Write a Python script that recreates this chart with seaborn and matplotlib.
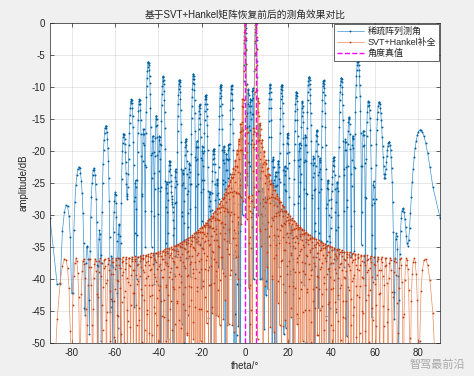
import numpy as np
import matplotlib
matplotlib.use("Agg")
import matplotlib.pyplot as plt
import seaborn as sns

# true source directions (deg), drawn as the magenta dashed lines
true_theta = [0, 5]
true_db = [0, 0]

# array sizes estimated from lobe spacing / far sidelobe level in the picture
n_full = 138      # orange (completed full array)
n_sparse = 115    # blue (sparse array)
n_scan = 1201     # scan points, uniform in sin(theta)

# sparse-array lobes: peak angle (deg) and level (dB)
blue_theta = [-81.5, -76.5, -72.8, -69.7, -66.6, -63.8, -59.5, -56.5,
              -55.3, -52.6, -49.0, -44.6, -41.0, -37.7, -34.5, -30.3, -27.5,
              -23.9, -21.0, -18.0, -14.5, -11.3, -6.1, 0.0, 5.0,
              11.5, 16.9, 19.7, 23.5, 26.4, 29.6, 33.3, 36.3, 40.8, 44.3,
              48.0, 52.1, 57.3, 62.0, 65.4, 67.2, 71.6, 74.0, 77.0, 80.0]
blue_db = [-33.0, -31.5, -31.6, -30.7, -27.9, -17.4, -31.0, -28.4,
           -18.0, -11.8, -14.0, -5.4, -21.0, -8.8, -21.0, -8.5, -21.0,
           -7.3, -16.0, -10.5, -19.0, -9.2, -9.7, 0.0, 0.0,
           -9.7, -9.2, -19.0, -10.5, -16.0, -7.3, -21.0, -8.5, -21.0, -8.8,
           -21.0, -5.4, -14.0, -11.8, -18.0, -28.4, -35.0, -37.0, -36.0, -17.4]

x_ticks = list(range(-80, 81, 20))
y_ticks = list(range(-50, 1, 5))


def dirichlet(x, n):
    """Array factor of an n-element half-wavelength ULA, x in sin-space."""
    num = np.sin(n * np.pi * x / 2)
    den = n * np.sin(np.pi * x / 2)
    out = np.ones_like(x)
    mask = np.abs(den) > 1e-12
    out[mask] = num[mask] / den[mask]
    return out


def pattern_db(u, lobe_theta, lobe_db, n):
    """Normalised pattern in dB built from the listed lobes."""
    amp = np.zeros_like(u)
    for t, p in zip(lobe_theta, lobe_db):
        amp += 10 ** (p / 20) * dirichlet(u - np.sin(np.deg2rad(t)), n)
    amp = np.abs(amp)
    return 20 * np.log10(amp / amp.max() + 1e-6)


u = np.linspace(-1, 1, n_scan)
theta = np.rad2deg(np.arcsin(u))
blue = pattern_db(u, blue_theta, blue_db, n_sparse)
orange = pattern_db(u, true_theta, true_db, n_full)

sns.set_style("ticks")
plt.rcParams["font.family"] = ["Liberation Sans", "Noto Sans CJK SC"]
plt.rcParams["axes.unicode_minus"] = False

fig = plt.figure(figsize=(4.74, 3.76), dpi=100, facecolor="#f0f0f0")
ax = fig.add_axes([0.1055, 0.0878, 0.8228, 0.8511])
ax.set_facecolor("white")

# MATLAB '.-' look: thin light line, darker sample dots
sns.lineplot(x=theta, y=blue, ax=ax, color="#3d93d0", linewidth=0.5,
             marker=".", markersize=2.8, markeredgewidth=0,
             markerfacecolor="#005f9e", errorbar=None, label="稀疏阵列测角")
sns.lineplot(x=theta, y=orange, ax=ax, color="#ec8a5c", linewidth=0.5,
             marker=".", markersize=2.6, markeredgewidth=0,
             markerfacecolor="#c23b12", errorbar=None, label="SVT+Hankel补全")
for i, t in enumerate(true_theta):
    ax.plot([t, t], [-50, 0], color="#FF00FF", linestyle="--", linewidth=1,
            label="角度真值" if i == 0 else None)

ax.set_xlim(-90, 90)
ax.set_ylim(-50, 0)
ax.set_xticks(x_ticks)
ax.set_yticks(y_ticks)
ax.grid(True, color="#262626", alpha=0.15, linewidth=0.5)
ax.tick_params(direction="in", top=True, right=True, length=3, width=0.5,
               labelsize=7, colors="#262626")
for sp in ax.spines.values():
    sp.set_linewidth(0.5)
    sp.set_color("#262626")

ax.set_title("基于SVT+Hankel矩阵恢复前后的测角效果对比", fontsize=7, pad=4)
ax.set_xlabel("theta/°", fontsize=7, labelpad=2)
ax.set_ylabel("amplitude/dB", fontsize=7, labelpad=2)

leg = ax.legend(loc="upper right", fontsize=6.5, frameon=True, fancybox=False,
                framealpha=1, edgecolor="#262626", borderaxespad=0.15,
                handlelength=3.0, handletextpad=0.4, labelspacing=0.2,
                borderpad=0.3, numpoints=1)
leg.get_frame().set_linewidth(0.5)

# watermark of the source image
fig.text(0.865, 0.022, "智驾最前沿", fontsize=8, color="#a8a8a8",
         family=["Noto Sans CJK SC"])

fig.savefig("out.png", dpi=100, facecolor=fig.get_facecolor())
